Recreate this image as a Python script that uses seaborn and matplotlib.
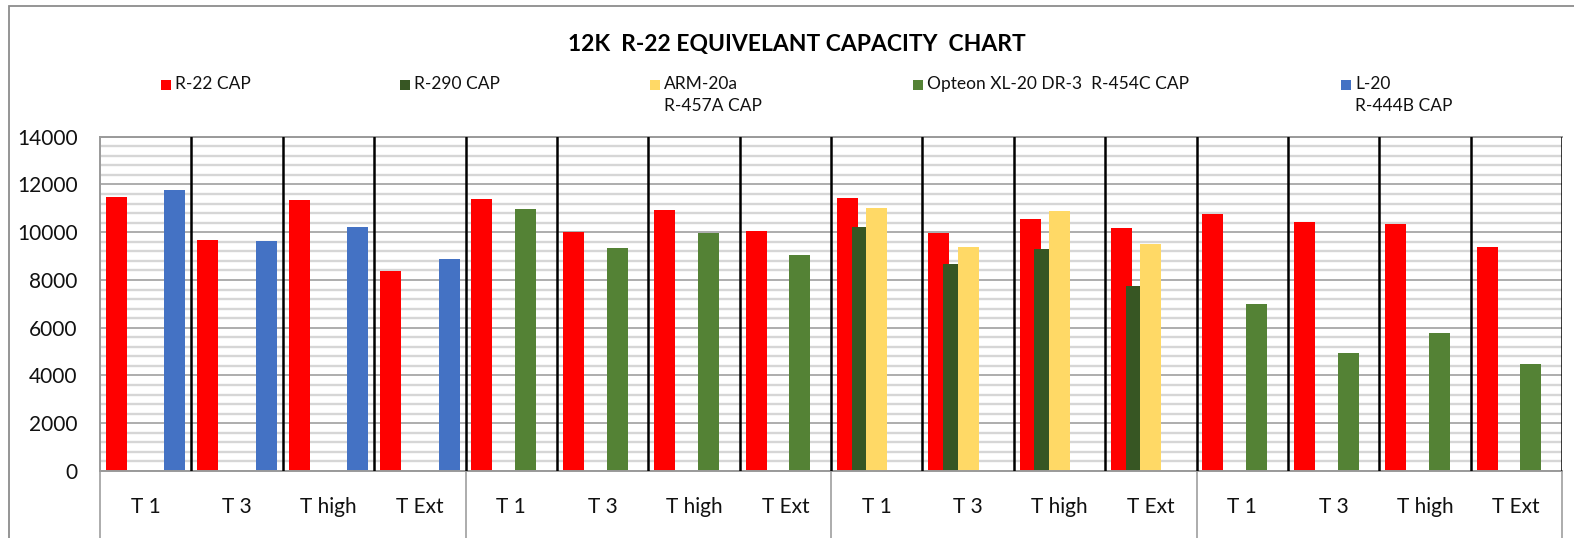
import numpy as np
import pandas as pd
import matplotlib.pyplot as plt
import matplotlib.transforms as mtransforms
from matplotlib.patches import Rectangle
from matplotlib.ticker import MultipleLocator
import seaborn as sns

# data
tests = ["T 1", "T 3", "T high", "T Ext"]
n_groups = 4
series = ["R-22 CAP", "R-290 CAP", "ARM-20a\nR-457A CAP",
          "Opteon XL-20 DR-3  R-454C CAP", "L-20\nR-444B CAP"]
colors = ["#FF0000", "#375623", "#FFD966", "#548235", "#4472C4"]

nan = np.nan
r22 = [11460, 9690, 11340, 8390, 11410, 10000, 10910, 10040,
       11440, 9970, 10560, 10180, 10770, 10420, 10360, 9370]
r290 = [nan] * 8 + [10220, 8670, 9290, 7750] + [nan] * 4
arm20a = [nan] * 8 + [11020, 9370, 10900, 9510] + [nan] * 4
opteon = [nan] * 4 + [10970, 9340, 9960, 9040] + [nan] * 4 + [6980, 4940, 5760, 4490]
l20 = [11780, 9650, 10220, 8870] + [nan] * 12

keys = [f"{g}|{t}" for g in range(n_groups) for t in tests]
values = [r22, r290, arm20a, opteon, l20]
rows = []
for name, vals in zip(series, values):
    for k, v in zip(keys, vals):
        if not np.isnan(v):
            rows.append({"cat": k, "series": name, "cap": v})
df = pd.DataFrame(rows)

sns.set_theme(style="white")
plt.rcParams["font.family"] = ["Lato", "DejaVu Sans"]

W, H = 1574, 538
fig = plt.figure(figsize=(W / 100, H / 100), dpi=100)
ax = fig.add_axes([100 / W, 1 - 471 / H, (1562 - 100) / W, (471 - 136.7) / H])

sns.barplot(data=df, x="cat", y="cap", hue="series", order=keys,
            hue_order=series, palette=colors, saturation=1, errorbar=None,
            width=0.8, legend=False, ax=ax, zorder=2)

# Excel-style overlap: widen bars around their centers
bar_w = 0.23
for p in ax.patches:
    c = p.get_x() + p.get_width() / 2
    p.set_width(bar_w)
    p.set_x(c - bar_w / 2)
    p.set_linewidth(0)

ax.set_xlim(-0.5, len(keys) - 0.5)
ax.set_ylim(0, 14000)
ax.yaxis.set_major_locator(MultipleLocator(2000))
ax.yaxis.set_minor_locator(MultipleLocator(400))
ax.grid(which="minor", axis="y", color="#d6d6d6", lw=1.7, zorder=0)
ax.grid(which="major", axis="y", color="#a0a0a0", lw=1.2, zorder=0)
ax.set_axisbelow(True)

for b in range(1, len(keys) + 1):
    ax.axvline(b - 0.5, color="black", lw=1.8, zorder=3)

ax.set_xticks(range(len(keys)))
ax.set_xticklabels([k.split("|")[1] for k in keys])
ax.tick_params(axis="x", length=0, pad=19, labelsize=15, labelcolor="#111111")
ax.tick_params(axis="y", length=0, pad=16, labelsize=15, labelcolor="#111111")
ax.set_xlabel("")
ax.set_ylabel("")

for s in ["left", "bottom", "top"]:
    ax.spines[s].set_color("#9a9a9a")
    ax.spines[s].set_linewidth(1.4)
ax.spines["right"].set_visible(False)

# two-level category box below the axis
trans = mtransforms.blended_transform_factory(ax.transData, ax.transAxes)
for g in range(n_groups + 1):
    x = g * len(tests) - 0.5
    ax.plot([x, x], [0, -0.25], color="#a6a6a6", lw=1.3,
            transform=trans, clip_on=False)

# title
fig.text(797 / W, 1 - 45 / H, "12K  R-22 EQUIVELANT CAPACITY  CHART",
         ha="center", va="center", fontsize=16.5, fontweight="bold",
         color="black")

# legend
leg_x = [161, 400, 650, 913, 1341]
leg_y = 85
for name, col, x in zip(series, colors, leg_x):
    fig.add_artist(Rectangle((x / W, 1 - (leg_y + 5) / H), 10 / W, 10 / H,
                             transform=fig.transFigure, color=col, lw=0))
    fig.text((x + 14) / W, 1 - (leg_y - 9) / H, name, ha="left", va="top",
             fontsize=12.5, color="#111111", linespacing=1.45)

# chart border
fig.add_artist(Rectangle((9 / W, -0.1), 1.2, 1.1 - 6 / H,
                         transform=fig.transFigure, fill=False,
                         edgecolor="#8c8c8c", lw=1.3))

plt.savefig("out.png", dpi=100)
